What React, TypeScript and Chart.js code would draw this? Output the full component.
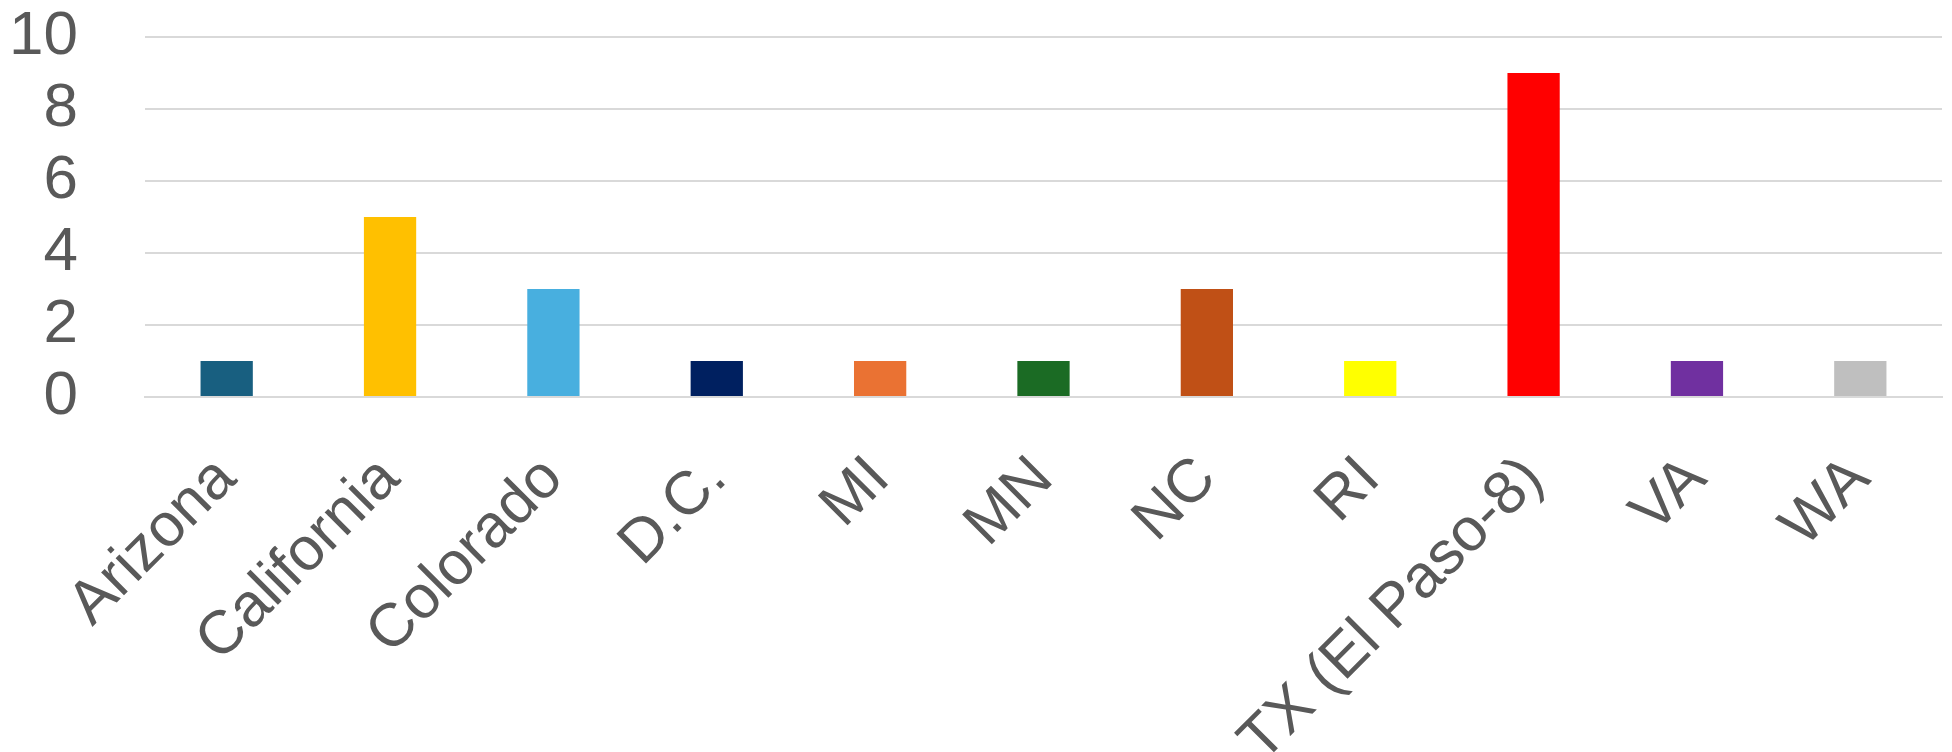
import React, { useEffect, useRef } from 'react';
import { Chart, registerables } from 'chart.js';

Chart.register(...registerables);

const states = ['Arizona', 'California', 'Colorado', 'D.C.', 'MI', 'MN', 'NC', 'RI', 'TX (El Paso-8)', 'VA', 'WA'];
const counts = [1, 5, 3, 1, 1, 1, 3, 1, 9, 1, 1];
const barColors = ['#185F80', '#FFC000', '#48AFDF', '#002060', '#EA7233', '#1B6B24', '#C05016', '#FFFF00', '#FF0000', '#7030A0', '#BFBFBF'];

const FONT = '"Liberation Sans", Arial, sans-serif';
const TEXT = '#595959';
const GRID = '#D9D9D9';

const App: React.FC = () => {
  const canvasRef = useRef<HTMLCanvasElement | null>(null);
  const chartRef = useRef<Chart | null>(null);

  useEffect(() => {
    document.body.style.margin = '0';
    if (!canvasRef.current) return;
    if (chartRef.current) chartRef.current.destroy();

    chartRef.current = new Chart(canvasRef.current, {
      type: 'bar',
      data: {
        labels: states,
        datasets: [{
          data: counts,
          backgroundColor: barColors,
          borderWidth: 0,
          categoryPercentage: 1,
          barPercentage: 0.32
        }]
      },
      options: {
        responsive: false,
        animation: false,
        layout: { padding: { top: 37, right: 10, left: 0, bottom: 0 } },
        plugins: {
          legend: { display: false },
          tooltip: { enabled: false }
        },
        scales: {
          x: {
            grid: { display: false, drawTicks: false },
            border: { display: true, color: GRID, width: 2 },
            ticks: {
              color: TEXT,
              font: { family: FONT, size: 61 },
              maxRotation: 45,
              minRotation: 45,
              padding: 46,
              autoSkip: false
            },
            afterFit: (scale: any) => {
              scale.height = 752 - 397;
              scale.paddingLeft = 0;
              scale.paddingRight = 0;
            }
          },
          y: {
            min: 0,
            max: 10,
            grid: { color: GRID, lineWidth: 2, drawTicks: false },
            border: { display: false },
            ticks: {
              stepSize: 2,
              autoSkip: false,
              color: TEXT,
              font: { family: FONT, size: 62 },
              padding: 67
            },
            afterFit: (scale: any) => {
              scale.width = 145;
              scale.paddingTop = 0;
              scale.paddingBottom = 0;
            }
          }
        }
      }
    });

    return () => {
      if (chartRef.current) chartRef.current.destroy();
      chartRef.current = null;
    };
  }, []);

  return (
    <div style={{ width: 1952, height: 752, background: '#fff' }}>
      <canvas ref={canvasRef} width={1952} height={752} />
    </div>
  );
};

export default App;
